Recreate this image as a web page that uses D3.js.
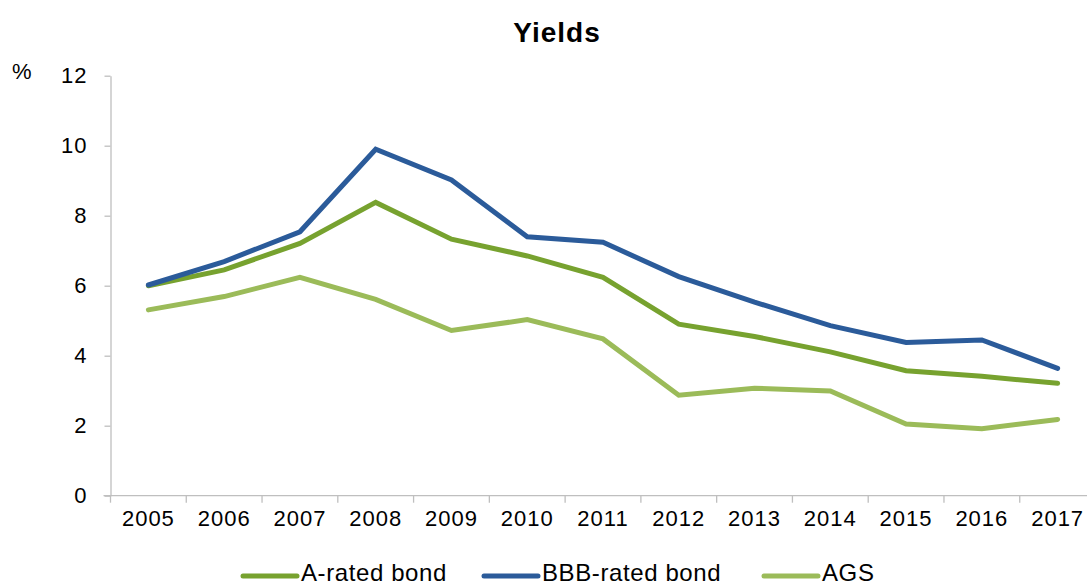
<!DOCTYPE html>
<html>
<head>
<meta charset="utf-8">
<script src="https://cdn.jsdelivr.net/npm/d3@7"></script>
<style>
  body { margin: 0; background: #fff; }
  svg { font-family: "Liberation Sans", Arial, sans-serif; }
</style>
</head>
<body>
<svg id="chart" width="1087" height="587"></svg>
<script>
// data
const years = ["2005", "2006", "2007", "2008", "2009", "2010", "2011", "2012", "2013", "2014", "2015", "2016", "2017"];
const aRated = [6.0, 6.45, 7.21, 8.38, 7.33, 6.85, 6.24, 4.9, 4.55, 4.11, 3.57, 3.41, 3.21];
const bbbRated = [6.02, 6.69, 7.54, 9.9, 9.02, 7.4, 7.24, 6.26, 5.53, 4.86, 4.38, 4.45, 3.64];
const ags = [5.31, 5.69, 6.24, 5.61, 4.72, 5.03, 4.48, 2.87, 3.07, 2.99, 2.05, 1.91, 2.18];
const yTicks = [0, 2, 4, 6, 8, 10, 12];

const series = [
    { name: "A-rated bond", values: aRated, color: "#77A22F" },
    { name: "BBB-rated bond", values: bbbRated, color: "#2B5B9A" },
    { name: "AGS", values: ags, color: "#9BBB59" }
];

const svg = d3.select("#chart");
const axisColor = "#BFBFBF";

const left = 110.5, bandW = 75.77;
const x = d3.scaleBand().domain(years).range([left, left + bandW * years.length]);
const y = d3.scaleLinear().domain([0, 12]).range([495.7, 75.7]);
const cx = d => x(d) + x.bandwidth() / 2;

// title and unit
svg.append("text")
    .attr("x", 557).attr("y", 42)
    .attr("text-anchor", "middle")
    .attr("font-size", 28).attr("font-weight", "bold")
    .attr("letter-spacing", 1)
    .text("Yields");

svg.append("text")
    .attr("x", 12).attr("y", 79)
    .attr("font-size", 22)
    .text("%");

// y axis
const yAxis = svg.append("g")
    .attr("transform", `translate(${left},0)`)
    .call(d3.axisLeft(y).tickValues(yTicks).tickSize(6).tickSizeOuter(0).tickPadding(17));
yAxis.select(".domain").attr("stroke", axisColor).attr("stroke-width", 1.3);
yAxis.selectAll(".tick line").attr("stroke", axisColor).attr("stroke-width", 1.3);
yAxis.selectAll(".tick text")
    .attr("font-size", 22).attr("fill", "#000")
    .attr("letter-spacing", 1)
    .attr("font-family", "Liberation Sans, Arial, sans-serif");

// x axis: labels at band centres, ticks at band edges
const xAxis = svg.append("g")
    .attr("transform", `translate(0,${y(0)})`)
    .call(d3.axisBottom(x).tickSize(0).tickPadding(15));
xAxis.select(".domain").remove();
xAxis.selectAll(".tick text")
    .attr("font-size", 22).attr("fill", "#000").attr("dy", "0.71em")
    .attr("letter-spacing", 1)
    .attr("font-family", "Liberation Sans, Arial, sans-serif");

xAxis.append("line")
    .attr("x1", 103.5).attr("x2", x.range()[1])
    .attr("stroke", axisColor).attr("stroke-width", 1.3);

xAxis.selectAll(".edge")
    .data(years)
    .enter().append("line")
    .attr("class", "edge")
    .attr("x1", d => x(d)).attr("x2", d => x(d))
    .attr("y1", 0).attr("y2", 7)
    .attr("stroke", axisColor).attr("stroke-width", 1.3);

// lines
const line = d3.line()
    .x((v, i) => cx(years[i]))
    .y(v => y(v));

svg.selectAll(".series")
    .data(series)
    .enter().append("path")
    .attr("class", "series")
    .attr("d", d => line(d.values))
    .attr("fill", "none")
    .attr("stroke", d => d.color)
    .attr("stroke-width", 5)
    .attr("stroke-linecap", "round");

// legend
const legendX = [243, 484, 764];
const legend = svg.selectAll(".legend")
    .data(series)
    .enter().append("g")
    .attr("class", "legend")
    .attr("transform", (d, i) => `translate(${legendX[i]},576)`);

legend.append("line")
    .attr("x1", 0).attr("x2", 54)
    .attr("stroke", d => d.color)
    .attr("stroke-width", 5)
    .attr("stroke-linecap", "round");

legend.append("text")
    .attr("x", 58).attr("y", 5)
    .attr("font-size", 24)
    .attr("letter-spacing", 0.6)
    .text(d => d.name);
</script>
</body>
</html>
